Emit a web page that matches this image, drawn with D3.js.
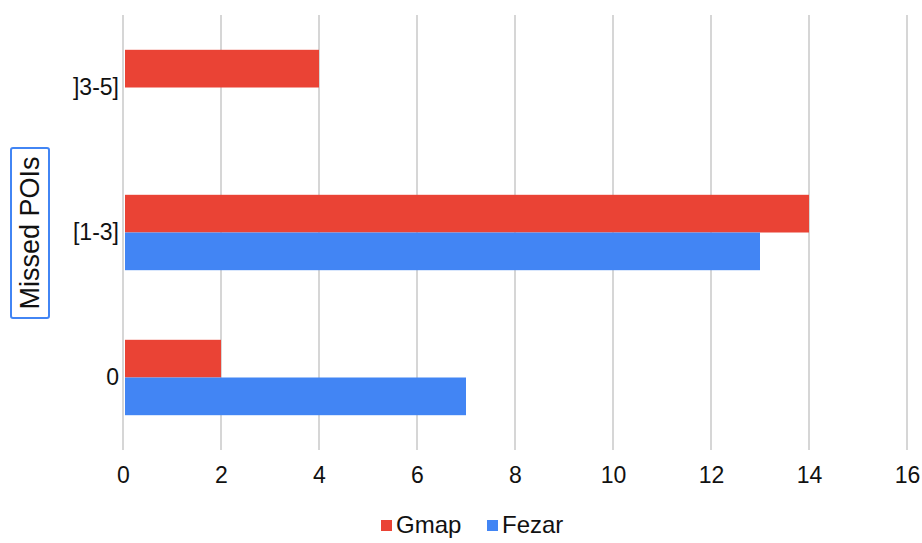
<!DOCTYPE html>
<meta charset="utf-8">
<style>
body { margin: 0; background: #fff; font-family: Arial, 'Liberation Sans', sans-serif; }
.grid line { stroke: #d6d6d6; stroke-width: 2px; }
.tick text { fill: #111; }
</style>
<svg width="922" height="543"></svg>
<script src="https://d3js.org/d3.v7.min.js"></script>
<script>
var categories = ["]3-5]", "[1-3]", "0"];
var seriesNames = ["Gmap", "Fezar"];
var gmap = [4, 14, 2];
var fezar = [null, 13, 7];
var xTicks = [0, 2, 4, 6, 8, 10, 12, 14, 16];
var colors = ["#ea4335", "#4285f4"];

var svg = d3.select("svg");
var plotL = 123, plotR = 907, plotT = 15, plotB = 450;
var FONT = "Arial, 'Liberation Sans', sans-serif";

var x = d3.scaleLinear().domain([0, 16]).range([plotL, plotR]);
var y = d3.scaleBand().domain(categories).range([plotT, plotB]).paddingInner(0.48).paddingOuter(0.24);
var sub = d3.scaleBand().domain(seriesNames).range([0, y.bandwidth()]);

// grid
svg.append("g").attr("class", "grid")
  .selectAll("line").data(xTicks).enter().append("line")
    .attr("x1", function(d) { return x(d); }).attr("x2", function(d) { return x(d); })
    .attr("y1", plotT).attr("y2", plotB);

var rows = categories.map(function(c, i) { return {cat: c, vals: [gmap[i], fezar[i]]}; });

var g = svg.append("g").selectAll("g").data(rows).enter().append("g")
  .attr("transform", function(d) { return "translate(0," + y(d.cat) + ")"; });

g.selectAll("rect").data(function(d) {
    return d.vals.map(function(v, j) { return {name: seriesNames[j], v: v, j: j}; })
      .filter(function(e) { return e.v != null; });
  })
  .enter().append("rect")
    .attr("x", x(0) + 2)
    .attr("y", function(d) { return sub(d.name); })
    .attr("width", function(d) { return x(d.v) - x(0) - 2; })
    .attr("height", sub.bandwidth())
    .attr("fill", function(d) { return colors[d.j]; });

// x axis labels
var xa = svg.append("g").attr("transform", "translate(0," + plotB + ")")
  .call(d3.axisBottom(x).tickValues(xTicks).tickSize(0).tickPadding(17));
xa.select(".domain").remove();
xa.selectAll("text").attr("font-size", 23).attr("font-family", FONT);

// y axis labels
var ya = svg.append("g").attr("transform", "translate(" + (plotL - 4) + ",0)")
  .call(d3.axisLeft(y).tickSize(0).tickPadding(0));
ya.select(".domain").remove();
ya.selectAll("text").attr("font-size", 23).attr("font-family", FONT);

// axis title with box
var title = svg.append("g").attr("transform", "translate(30,233) rotate(-90)");
title.append("rect").attr("x", -85).attr("y", -19).attr("width", 170).attr("height", 38)
  .attr("fill", "none").attr("stroke", "#4285f4").attr("stroke-width", 2).attr("rx", 2);
title.append("text").attr("text-anchor", "middle").attr("dy", "0.35em")
  .attr("font-size", 27).attr("font-family", FONT).attr("fill", "#111").text("Missed POIs");

// legend
var legend = svg.append("g").attr("transform", "translate(381,525)");
var lx = [0, 106];
seriesNames.forEach(function(n, i) {
  var it = legend.append("g").attr("transform", "translate(" + lx[i] + ",0)");
  it.append("rect").attr("x", 0).attr("y", -5).attr("width", 11).attr("height", 11).attr("fill", colors[i]);
  it.append("text").attr("x", 15).attr("dy", "0.35em").attr("font-size", 24)
    .attr("font-family", FONT).attr("fill", "#111").text(n);
});
</script>
